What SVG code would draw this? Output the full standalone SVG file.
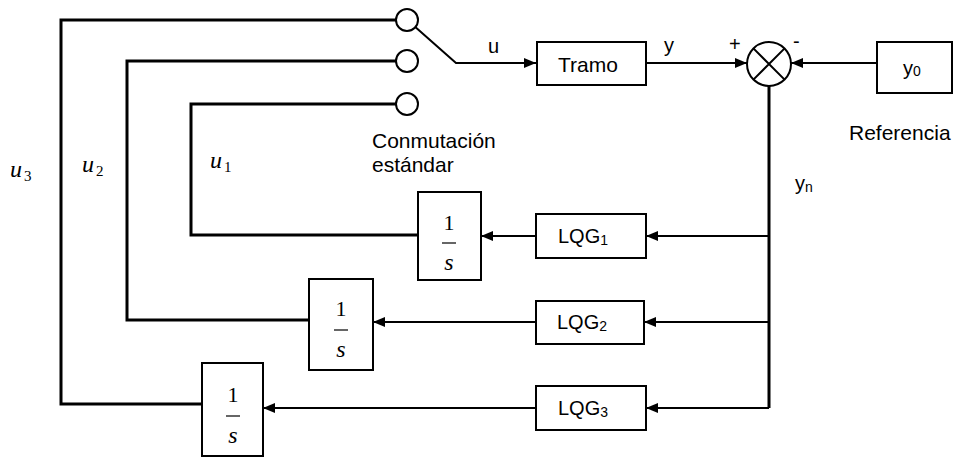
<svg xmlns="http://www.w3.org/2000/svg" width="957" height="458" viewBox="0 0 957 458">
<style>
.box{fill:#fff;stroke:#000;stroke-width:2}
.w{fill:none;stroke:#000;stroke-width:3}
.t{fill:none;stroke:#000;stroke-width:2}
.lbl{font-family:"Liberation Sans",Arial,sans-serif;font-size:20px;fill:#000}
.big{font-size:21px}
.mat{font-family:"Liberation Serif","Times New Roman",serif;font-size:24px;font-style:italic;fill:#000}
.num{font-family:"Liberation Serif","Times New Roman",serif;font-size:22px;font-style:normal;fill:#000}
.sub{font-family:"Liberation Serif","Times New Roman",serif;font-size:15px;font-style:normal}
</style>
<defs>
<marker id="ah" markerWidth="12" markerHeight="10" refX="12" refY="5" orient="auto" markerUnits="userSpaceOnUse">
<path d="M0,0 L12,5 L0,10 Z" fill="#000"/>
</marker>
</defs>
<g id="connectors">
<path class="w" d="M396,20 H61 V404 H203"/>
<path class="w" d="M396,61 H127 V320 H309"/>
<path class="w" d="M396,104 H191 V235 H418"/>
<path class="t" d="M413,25 L456,63 H536" marker-end="url(#ah)"/>
<path class="t" d="M646,63 H747" marker-end="url(#ah)"/>
<path class="t" d="M877,63 H791" marker-end="url(#ah)"/>
<path class="w" d="M769,86 V408"/>
<path class="t" d="M769,236 H646" marker-end="url(#ah)"/>
<path class="t" d="M769,322 H644" marker-end="url(#ah)"/>
<path class="t" d="M769,408 H646" marker-end="url(#ah)"/>
<path class="t" d="M536,236 H481" marker-end="url(#ah)"/>
<path class="t" d="M536,322 H373" marker-end="url(#ah)"/>
<path class="t" d="M536,408 H263" marker-end="url(#ah)"/>
</g>
<g id="switch">
<circle cx="407" cy="20" r="11" class="box"/>
<circle cx="407" cy="61" r="11" class="box"/>
<circle cx="407" cy="104" r="11" class="box"/>
<text class="lbl big" x="372" y="148">Conmutación</text>
<text class="lbl big" x="372" y="172">estándar</text>
</g>
<g id="tramo">
<rect class="box" x="537" y="42" width="109" height="43"/>
<text class="lbl big" x="588" y="72" text-anchor="middle">Tramo</text>
</g>
<g id="sum">
<circle cx="769" cy="64" r="22" class="box"/>
<path class="t" d="M753.4,48.4 L784.6,79.6 M784.6,48.4 L753.4,79.6"/>
<text class="lbl" x="729" y="51">+</text>
<text class="lbl" x="793" y="48">-</text>
</g>
<g id="ref">
<rect class="box" x="877" y="42" width="75" height="51"/>
<text class="lbl" x="903" y="75">y<tspan font-size="14" dy="1">0</tspan></text>
<text class="lbl big" x="849" y="140">Referencia</text>
</g>
<g id="labels">
<text class="lbl" x="488" y="53">u</text>
<text class="lbl" x="664" y="52">y</text>
<text class="lbl" x="795" y="190">y<tspan font-size="14" dy="2">n</tspan></text>
<text class="mat" x="10" y="177">u<tspan class="sub" dx="2" dy="4">3</tspan></text>
<text class="mat" x="82" y="172">u<tspan class="sub" dx="2" dy="4">2</tspan></text>
<text class="mat" x="210" y="168">u<tspan class="sub" dx="2" dy="4">1</tspan></text>
</g>
<g id="lqg1">
<rect class="box" x="536" y="214" width="110" height="44"/>
<text class="lbl" x="583" y="243" text-anchor="middle">LQG<tspan font-size="14" dy="2">1</tspan></text>
</g>
<g id="lqg2">
<rect class="box" x="536" y="301" width="108" height="43"/>
<text class="lbl" x="582" y="329" text-anchor="middle">LQG<tspan font-size="14" dy="2">2</tspan></text>
</g>
<g id="lqg3">
<rect class="box" x="536" y="386" width="110" height="44"/>
<text class="lbl" x="583" y="415" text-anchor="middle">LQG<tspan font-size="14" dy="2">3</tspan></text>
</g>
<g id="int1">
<rect class="box" x="418" y="192" width="63" height="88"/>
<text class="num" x="449" y="230" text-anchor="middle">1</text>
<line x1="442" y1="243" x2="456" y2="243" stroke="#000" stroke-width="1.2"/>
<text class="mat" x="449" y="270" text-anchor="middle">s</text>
</g>
<g id="int2">
<rect class="box" x="309" y="279" width="64" height="91"/>
<text class="num" x="341" y="316" text-anchor="middle">1</text>
<line x1="334" y1="330" x2="348" y2="330" stroke="#000" stroke-width="1.2"/>
<text class="mat" x="341" y="357" text-anchor="middle">s</text>
</g>
<g id="int3">
<rect class="box" x="202" y="363" width="61" height="93"/>
<text class="num" x="233" y="402" text-anchor="middle">1</text>
<line x1="226" y1="416" x2="240" y2="416" stroke="#000" stroke-width="1.2"/>
<text class="mat" x="233" y="443" text-anchor="middle">s</text>
</g>
</svg>
